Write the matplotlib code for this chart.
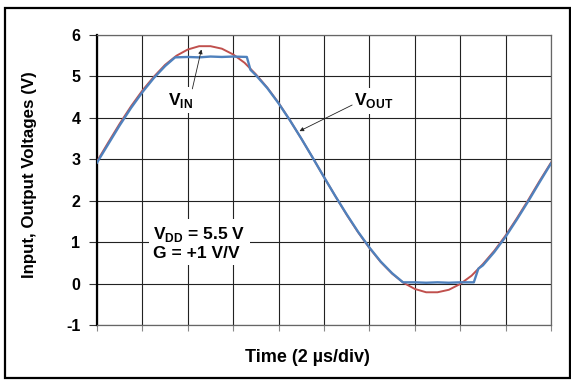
import matplotlib
matplotlib.use("Agg")
import matplotlib.pyplot as plt
from matplotlib.patches import Rectangle

plt.rcParams['font.family'] = ['Liberation Sans', 'DejaVu Sans']
plt.rcParams['mathtext.fontset'] = 'custom'
plt.rcParams['mathtext.rm'] = 'Liberation Sans:bold'
plt.rcParams['mathtext.bf'] = 'Liberation Sans:bold'

# Input waveform (divisions, volts)
t_in = [0, 0.25, 0.5, 0.75, 1.0, 1.25, 1.5, 1.75, 2.0, 2.25, 2.5, 2.75, 3.0,
        3.25, 3.5, 3.75, 4.0, 4.25, 4.5, 4.75, 5.0, 5.25, 5.5, 5.75, 6.0,
        6.25, 6.5, 6.75, 7.0, 7.25, 7.5, 7.75, 8.0, 8.25, 8.5, 8.75, 9.0,
        9.25, 9.5, 9.75, 10.0]
v_in = [2.95, 3.41, 3.86, 4.28, 4.66, 4.99, 5.28, 5.50, 5.65, 5.73, 5.73,
        5.67, 5.53, 5.33, 5.05, 4.73, 4.36, 3.94, 3.50, 3.04, 2.57, 2.11,
        1.66, 1.24, 0.86, 0.52, 0.24, 0.02, -0.13, -0.21, -0.21, -0.15,
        -0.01, 0.19, 0.47, 0.79, 1.16, 1.58, 2.02, 2.48, 2.92]

# Output waveform (clipped near the rails)
t_out = [0, 0.25, 0.5, 0.75, 1.0, 1.25, 1.5, 1.72, 2.0, 2.25, 2.5, 2.75,
         3.0, 3.3, 3.38, 3.5, 3.75, 4.0, 4.25, 4.5, 4.75, 5.0, 5.25, 5.5,
         5.75, 6.0, 6.25, 6.5, 6.74, 7.0, 7.25, 7.5, 7.75, 8.0, 8.3, 8.4,
         8.5, 8.75, 9.0, 9.25, 9.5, 9.75, 10.0]
v_out = [2.92, 3.37, 3.82, 4.24, 4.62, 4.96, 5.25, 5.46, 5.47, 5.46, 5.48,
         5.47, 5.48, 5.47, 5.16, 5.03, 4.72, 4.35, 3.94, 3.50, 3.04, 2.57,
         2.11, 1.67, 1.25, 0.87, 0.53, 0.25, 0.03, 0.03, 0.02, 0.03, 0.02,
         0.03, 0.03, 0.36, 0.44, 0.76, 1.13, 1.55, 1.99, 2.45, 2.90]

y_ticks = [-1, 0, 1, 2, 3, 4, 5, 6]
x_ticks = list(range(0, 11))

W, H = 571, 385
fig = plt.figure(figsize=(W / 100, H / 100), dpi=100)
ax = fig.add_axes([97 / W, 1 - 325 / H, 454 / W, 290 / H])

ax.plot(t_in, v_in, color='#C0504D', lw=1.4, zorder=3)
ax.plot(t_out, v_out, color='#4F81BD', lw=1.7, zorder=4)

ax.set_xlim(0, 10)
ax.set_ylim(-1, 6)
ax.set_xticks(x_ticks)
ax.set_xticklabels([])
ax.set_yticks(y_ticks)
ax.set_yticklabels([str(v) for v in y_ticks], fontsize=11.5, fontweight='bold')
ax.tick_params(axis='y', direction='out', length=6, width=0.8, pad=6, color='#333333')
ax.tick_params(axis='x', direction='out', length=4.5, width=0.8, color='#888888')
ax.grid(True, color='#222222', lw=0.8)
ax.set_axisbelow(True)

for side in ('top', 'right', 'bottom'):
    ax.spines[side].set_color('#666666')
    ax.spines[side].set_linewidth(0.9)
ax.spines['left'].set_color('black')
ax.spines['left'].set_linewidth(1.6)

# Labels for the traces
ax.text(1.84, 4.42, r'$\mathbf{V}_{\mathbf{IN}}$', fontsize=12.5, ha='center', va='center',
        bbox=dict(facecolor='white', edgecolor='none', pad=2.5), zorder=5)
ax.annotate('', xy=(2.30, 5.65), xytext=(2.10, 4.70),
            arrowprops=dict(arrowstyle='-|>', color='#222222', lw=0.6,
                            mutation_scale=6, shrinkA=0, shrinkB=0), zorder=6)

ax.text(6.09, 4.41, r'$\mathbf{V}_{\mathbf{OUT}}$', fontsize=12.5, ha='center', va='center',
        bbox=dict(facecolor='white', edgecolor='none', pad=2.5), zorder=5)
ax.annotate('', xy=(4.46, 3.68), xytext=(5.62, 4.31),
            arrowprops=dict(arrowstyle='-|>', color='#222222', lw=0.6,
                            mutation_scale=6, shrinkA=0, shrinkB=0), zorder=6)

ax.text(1.24, 0.98, r'$\mathbf{V}_{\mathbf{DD}}$' + ' = 5.5 V\nG = +1 V/V', fontsize=12.5,
        fontweight='bold', ha='left', va='center', linespacing=1.1,
        bbox=dict(facecolor='white', edgecolor='none', pad=3), zorder=5)

fig.text(30 / W, 1 - 175 / H, 'Input, Output Voltages (V)', rotation=90,
         ha='center', va='center', fontsize=12.2, fontweight='bold')
fig.text(307 / W, 1 - 357 / H, 'Time (2 µs/div)', ha='center', va='center',
         fontsize=13, fontweight='bold')

fig.add_artist(Rectangle((5 / W, 1 - 378 / H), 565 / W, 370 / H,
                         transform=fig.transFigure, fill=False,
                         edgecolor='black', lw=1.6))

fig.savefig('out.png', dpi=100)
